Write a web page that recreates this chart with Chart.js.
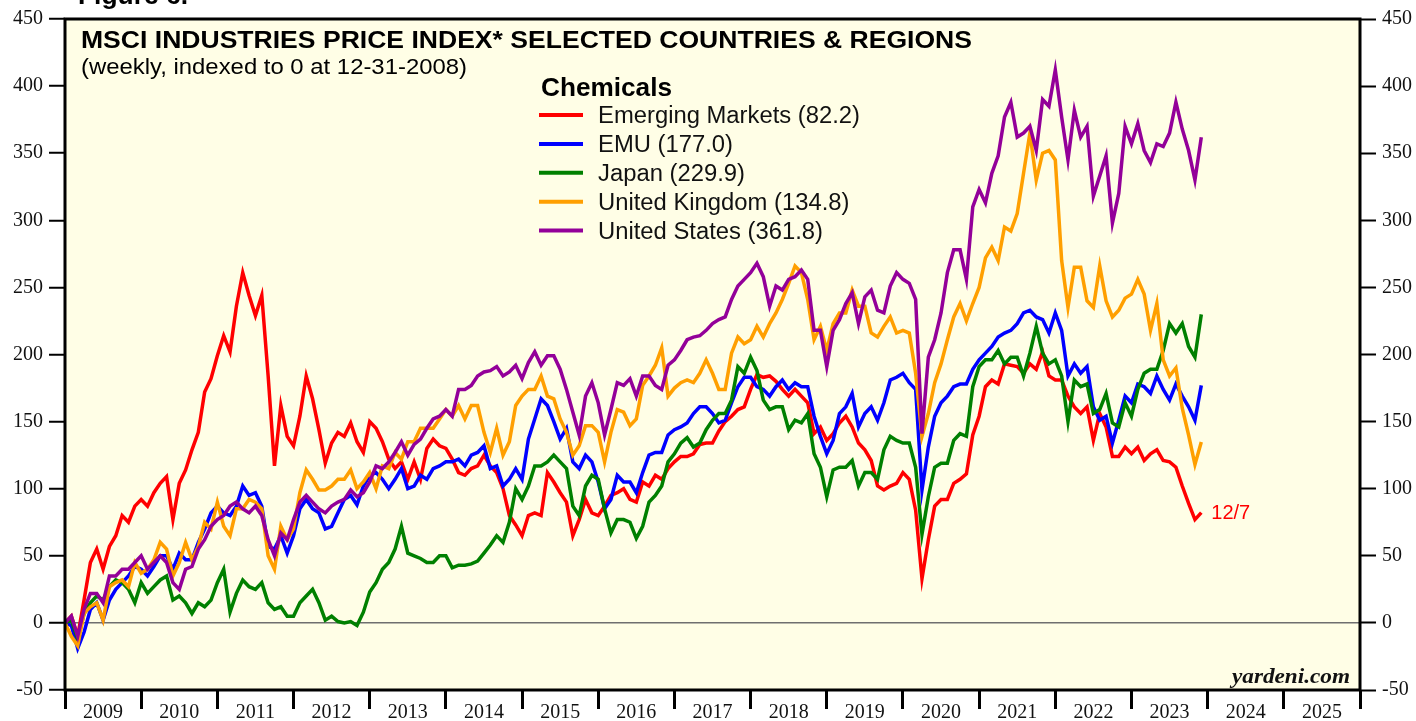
<!DOCTYPE html>
<html><head><meta charset="utf-8">
<script src="https://cdn.jsdelivr.net/npm/chart.js@4.4.0/dist/chart.umd.min.js"></script>
<style>html,body{margin:0;padding:0;background:#fff;overflow:hidden}</style>
</head><body>
<canvas id="c" width="1416" height="721"></canvas>
<script>
// ---- data (monthly samples, indexed to 0 at 12-31-2008) ----
const startYear = 2009;
const yearLabels = ['2009','2010','2011','2012','2013','2014','2015','2016','2017','2018','2019','2020','2021','2022','2023','2024','2025'];
const yTickValues = [-50,0,50,100,150,200,250,300,350,400,450];
const seriesNames = ['Emerging Markets (82.2)','EMU (177.0)','Japan (229.9)','United Kingdom (134.8)','United States (361.8)'];
const lastDateLabel = '12/7';

const emergingMarkets = [0,5,-10,17,45,55,40,57,65,80,75,87,
 92,87,97,104,109,77,104,114,129,142,172,182,
 199,214,202,236,261,244,229,244,184,117,162,139,
 132,154,184,167,144,119,134,142,139,149,135,127,
 150,145,135,122,115,120,107,120,107,130,137,132,
 130,122,112,110,115,117,125,117,112,100,80,73,
 65,80,82,80,112,105,97,90,65,77,92,82,
 80,87,95,97,100,92,90,105,102,110,107,115,
 120,124,124,126,133,134,134,143,150,154,159,161,
 174,185,183,184,180,174,169,174,169,164,141,146,
 136,141,149,154,146,134,129,121,102,99,102,104,
 112,107,84,33,62,87,92,92,104,107,111,140,
 154,176,181,178,193,192,191,186,193,189,202,184,
 181,181,169,161,156,161,136,156,146,124,124,131,
 126,131,121,126,129,121,120,116,102,89,77,82.2];

const emu = [0,-2,-19,-7,10,15,2,17,25,30,35,42,
 40,35,42,50,50,40,52,47,47,60,70,82,
 87,82,80,87,102,95,97,87,57,55,65,52,
 65,85,92,85,82,70,72,82,92,95,88,102,
 110,112,107,100,107,115,100,102,110,107,115,117,
 120,120,122,117,125,127,132,115,117,102,107,115,
 107,137,152,167,162,150,137,145,120,115,125,120,
 105,85,92,110,105,105,97,112,125,127,127,140,
 144,146,149,156,161,161,156,149,151,164,176,183,
 183,176,174,169,176,181,174,179,176,176,154,139,
 126,136,156,161,171,146,156,161,151,164,181,183,
 186,179,174,99,131,154,164,169,176,178,178,189,
 196,201,206,213,216,218,223,231,233,228,226,216,
 231,218,184,193,186,191,161,151,154,134,151,169,
 164,178,176,171,184,174,166,178,169,161,151,177.0];

const japan = [0,2,-12,7,15,20,17,27,32,30,25,15,
 30,22,27,32,35,17,20,15,7,15,12,17,
 30,40,8,22,32,27,25,30,15,10,12,5,
 5,15,20,25,15,2,5,1,0,1,-2,8,
 23,30,40,45,55,72,52,50,48,45,45,50,
 50,41,43,43,44,46,52,58,65,60,75,100,
 92,102,117,117,120,125,120,115,87,80,102,110,
 107,85,67,77,77,75,63,72,90,95,102,120,
 126,134,138,131,134,144,151,156,156,166,191,186,
 198,188,166,159,161,161,144,151,149,156,126,116,
 94,114,116,116,121,102,112,112,107,129,139,136,
 134,134,116,66,94,116,119,119,136,141,139,176,
 191,196,196,203,193,198,198,184,201,221,201,193,
 196,184,150,181,176,178,156,159,171,149,146,164,
 154,174,186,189,189,203,223,216,223,206,198,229.9];

const unitedKingdom = [0,-10,-17,7,12,15,2,27,30,32,27,45,
 37,40,47,60,55,35,45,60,47,57,75,70,
 90,72,65,85,85,92,90,85,50,40,72,62,
 70,97,114,107,99,99,102,107,107,114,100,105,
 112,100,117,115,127,122,135,135,145,145,145,152,
 159,154,162,152,162,162,142,127,145,125,135,162,
 169,174,174,184,169,167,152,142,125,132,147,147,
 142,120,142,159,157,147,152,177,184,192,205,169,
 175,179,181,179,186,196,186,174,174,201,213,208,
 211,221,213,223,231,241,253,266,261,241,211,221,
 203,223,231,231,248,236,236,216,213,221,228,216,
 218,216,186,139,156,179,193,211,228,238,225,238,
 250,272,280,270,295,292,305,335,365,330,350,352,
 345,270,235,265,265,240,235,266,240,228,233,242,
 245,256,245,218,238,196,184,190,160,140,118,134.8];

const unitedStates = [0,5,-10,10,22,22,15,35,35,40,40,45,
 50,40,45,50,45,30,25,40,42,55,62,72,
 77,80,87,90,85,82,87,80,62,50,67,62,
 77,90,95,90,85,82,87,90,92,99,94,97,
 105,117,115,120,127,135,125,133,137,145,152,154,
 159,154,174,174,177,184,187,188,191,184,187,192,
 182,194,202,192,199,199,189,174,157,140,169,179,
 164,140,159,179,177,182,169,184,184,177,174,192,
 196,203,211,213,214,218,223,226,228,241,251,256,
 261,268,258,236,251,248,256,258,263,256,218,218,
 191,218,226,238,246,223,243,248,233,231,251,261,
 256,253,241,141,198,211,231,261,278,278,256,310,
 323,313,335,348,377,388,362,365,370,352,390,385,
 412,377,345,382,362,370,318,333,348,298,320,370,
 357,372,352,343,357,355,365,388,368,352,330,361.8];

// sample dates (decimal years) for the monthly readings
const dates = emergingMarkets.map((_, i) => startYear + i / 12);

// ---- styling ----
const seriesValues = [emergingMarkets, emu, japan, unitedKingdom, unitedStates];
const seriesColors = ['#FF0000', '#0000FF', '#008000', '#FF9F00', '#930099'];

const xTicks = [];
yearLabels.forEach((y, i) => { xTicks.push({value: startYear + i}); xTicks.push({value: startYear + i + 0.5}); });
xTicks.push({value: startYear + yearLabels.length});

function fitText(ctx, text, x, y, font, targetWidth, color, align) {
  ctx.save();
  ctx.font = font;
  ctx.fillStyle = color || '#000';
  ctx.textBaseline = 'alphabetic';
  ctx.textAlign = align || 'left';
  const w = ctx.measureText(text).width;
  const sx = targetWidth ? targetWidth / w : 1;
  ctx.translate(x, y);
  ctx.scale(sx, 1);
  ctx.fillText(text, 0, 0);
  ctx.restore();
}

const decor = {
  id: 'decor',
  beforeDraw(chart) {
    const {ctx, chartArea: a} = chart;
    ctx.save();
    ctx.fillStyle = '#ffffff';
    ctx.fillRect(0, 0, chart.width, chart.height);
    ctx.fillStyle = '#FFFEE6';
    ctx.fillRect(a.left, a.top, a.right - a.left, a.bottom - a.top);
    ctx.restore();
  },
  afterDraw(chart) {
    const {ctx, chartArea: a, scales} = chart;
    ctx.save();
    ctx.lineWidth = 3;
    ctx.strokeStyle = '#000';
    ctx.strokeRect(a.left, a.top, a.right - a.left, a.bottom - a.top);
    ctx.restore();

    fitText(ctx, 'Figure 6.', 78, 4, 'bold 25px "Liberation Sans", Arial, sans-serif', 110);
    fitText(ctx, 'MSCI INDUSTRIES PRICE INDEX* SELECTED COUNTRIES & REGIONS', 81, 48, 'bold 23px "Liberation Sans", Arial, sans-serif', 891);
    fitText(ctx, '(weekly, indexed to 0 at 12-31-2008)', 81, 74, '22px "Liberation Sans", Arial, sans-serif', 386);

    // legend
    fitText(ctx, 'Chemicals', 541, 96, 'bold 25px "Liberation Sans", Arial, sans-serif', 131);
    ctx.save();
    ctx.font = '23px "Liberation Sans", Arial, sans-serif';
    const baseW = ctx.measureText(seriesNames[0]).width;
    const sx = 262 / baseW;
    ctx.restore();
    seriesNames.forEach((name, i) => {
      const ly = 115 + i * 28.9;
      ctx.save();
      ctx.strokeStyle = seriesColors[i];
      ctx.lineWidth = 4;
      ctx.beginPath(); ctx.moveTo(539, ly); ctx.lineTo(583, ly); ctx.stroke();
      ctx.font = '23px "Liberation Sans", Arial, sans-serif';
      ctx.fillStyle = '#111';
      ctx.translate(598, ly + 8.3);
      ctx.scale(sx, 1);
      ctx.fillText(name, 0, 0);
      ctx.restore();
    });

    // end-date label beside the last emerging markets value
    const xs = scales.x, ys = scales.y;
    const lx = xs.getPixelForValue(dates[dates.length - 1]) + 10;
    const lyv = ys.getPixelForValue(emergingMarkets[emergingMarkets.length - 1]);
    ctx.save();
    ctx.font = '20px "Liberation Sans", Arial, sans-serif';
    ctx.fillStyle = '#FF0000';
    ctx.textBaseline = 'middle';
    ctx.fillText(lastDateLabel, lx, lyv + 1);
    ctx.restore();

    fitText(ctx, 'yardeni.com', 1350, 683, 'bold italic 22px "Liberation Serif", "Times New Roman", serif', 118, '#111', 'right');
  }
};

const tickFont = {family: '"Liberation Serif", "Times New Roman", serif', size: 20};

const chart = new Chart(document.getElementById('c'), {
  type: 'line',
  data: {
    datasets: seriesValues.map((vals, i) => ({
      label: seriesNames[i],
      data: vals.map((v, j) => ({x: dates[j], y: v})),
      borderColor: seriesColors[i],
      borderWidth: 3.5,
      pointRadius: 0,
      tension: 0,
      fill: false,
      order: seriesValues.length - i
    }))
  },
  options: {
    responsive: false,
    animation: false,
    devicePixelRatio: 1,
    layout: {padding: {top: 19, left: 0, right: 0, bottom: 0}},
    plugins: {legend: {display: false}, tooltip: {enabled: false}},
    scales: {
      x: {
        type: 'linear', position: 'bottom',
        min: startYear, max: startYear + yearLabels.length,
        afterBuildTicks: s => { s.ticks = xTicks.map(t => ({value: t.value})); },
        afterFit: s => { s.height = 31; },
        border: {display: false},
        grid: {
          drawOnChartArea: false, tickLength: 19, tickWidth: 3,
          tickColor: c => (c.tick && Number.isInteger(c.tick.value)) ? '#000' : 'rgba(0,0,0,0)'
        },
        ticks: {
          autoSkip: false, maxRotation: 0, minRotation: 0, padding: -8,
          font: tickFont, color: '#111',
          callback: v => Number.isInteger(v) ? '' : yearLabels[Math.floor(v) - startYear]
        }
      },
      y: {
        position: 'left', min: -50, max: 450,
        afterBuildTicks: s => { s.ticks = yTickValues.map(v => ({value: v})); },
        afterFit: s => { s.width = 65; },
        border: {display: false},
        grid: {
          color: c => (c.tick && c.tick.value === 0) ? '#6f6f6f' : 'rgba(0,0,0,0)',
          lineWidth: 1.5, tickColor: '#000', tickLength: 16, tickWidth: 2
        },
        ticks: {padding: 6, font: tickFont, color: '#111'}
      },
      y2: {
        position: 'right', min: -50, max: 450,
        afterBuildTicks: s => { s.ticks = yTickValues.map(v => ({value: v})); },
        afterFit: s => { s.width = 56; },
        border: {display: false},
        grid: {drawOnChartArea: false, tickColor: '#000', tickLength: 16, tickWidth: 2},
        ticks: {padding: 6, font: tickFont, color: '#111'}
      }
    }
  },
  plugins: [decor]
});
</script>
</body></html>
